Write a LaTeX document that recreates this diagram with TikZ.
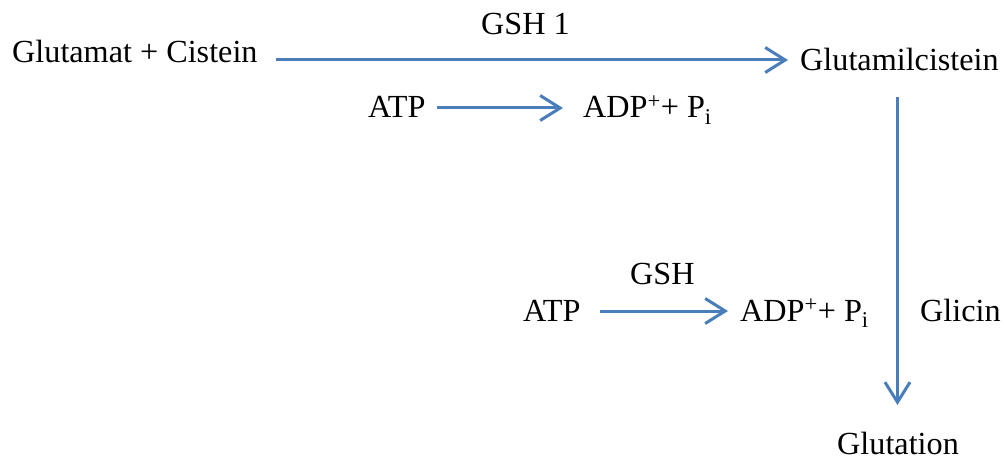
\documentclass[tikz,border=0pt]{standalone}
\usepackage{fontspec}
\setmainfont{Liberation Serif}
\usetikzlibrary{arrows.meta}
\definecolor{arrblue}{RGB}{74,126,187}
\tikzset{
  lbl/.style={inner sep=0pt, anchor=base west, font=\fontsize{32.2}{38}\selectfont},
  arr/.style={draw=arrblue, line width=3pt, -{Straight Barb[length=20pt,width=25pt,line width=3pt]}}
}
\begin{document}
\begin{tikzpicture}[x=1pt,y=-1pt]
\path[use as bounding box] (0,0) rectangle (1004,457);
\node[lbl] (gc) at (12,63) {Glutamat + Cistein};
\node[lbl] (gsh1) at (481,35) {GSH 1};
\node[lbl] (glc) at (800,71) {Glutamilcistein};
\node[lbl] (atp1) at (368,118) {ATP};
\node[lbl] (adp1) at (583,118) {ADP\textsuperscript{+}+ P\textsubscript{i}};
\node[lbl] (gsh) at (630,284) {GSH};
\node[lbl] (atp2) at (523,321) {ATP};
\node[lbl] (adp2) at (740,321) {ADP\textsuperscript{+}+ P\textsubscript{i}};
\node[lbl] (gli) at (920,321) {Glicin};
\node[lbl] (gtn) at (837,454) {Glutation};
\coordinate (vtop) at ([shift={(-2,26)}]glc.base);
\coordinate (vbot) at ([shift={(0,-49)}]gtn.base);
\draw[arr] ([shift={(18,-3)}]gc.base east) -- ([shift={(-12,-11)}]glc.base west);
\draw[arr] ([shift={(11,-10)}]atp1.base east) -- ([shift={(-20,-10)}]adp1.base west);
\draw[arr] ([shift={(19,-10)}]atp2.base east) -- ([shift={(-12,-10)}]adp2.base west);
\draw[arr] (vtop) -- (vtop |- vbot);
\end{tikzpicture}
\end{document}
